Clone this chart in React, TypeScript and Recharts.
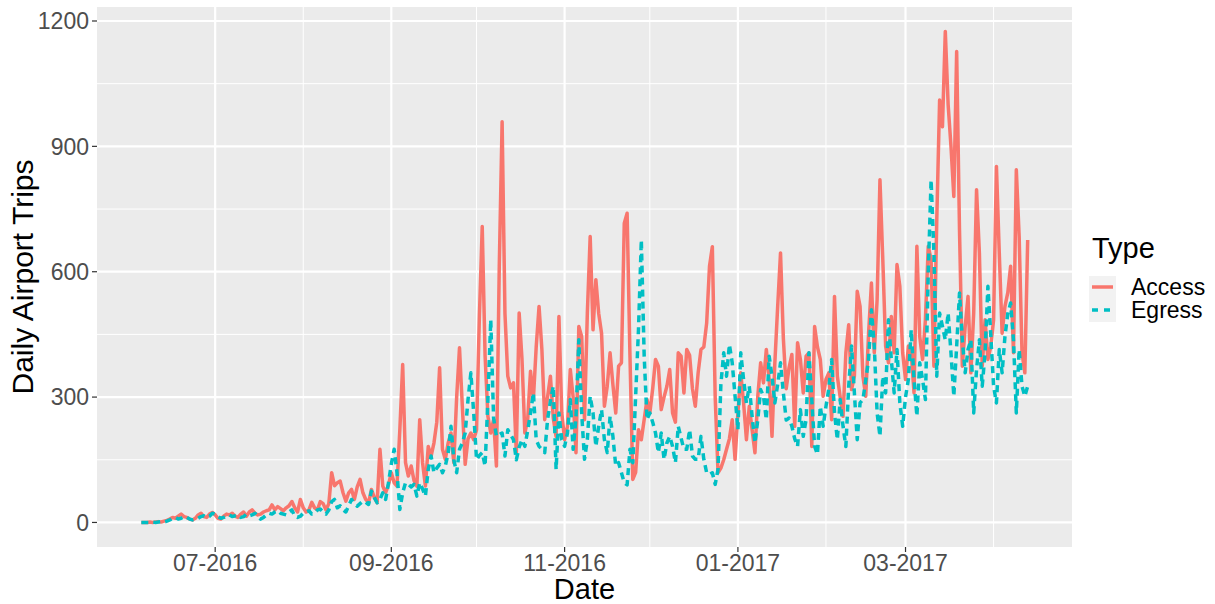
import React from 'react';
import { LineChart, Line, XAxis, YAxis, CartesianGrid, Label } from 'recharts';

// Daily series start on 2016-06-05, one value per day
const startDate = '2016-06-05';

const accessTrips = [
  0, 0, 0, 1, 0, 1, 2, 1, 3, 5,
  8, 12, 10, 15, 20, 14, 12, 8, 6, 10,
  18, 22, 14, 12, 20, 24, 18, 10, 8, 15,
  20, 18, 22, 15, 12, 20, 25, 15, 25, 30,
  22, 18, 20, 25, 28, 30, 42, 30, 38, 33,
  28, 35, 40, 50, 35, 25, 55, 35, 25, 30,
  48, 35, 30, 50, 45, 30, 45, 119, 88, 95,
  99, 71, 51, 71, 79, 55, 85, 103, 71, 55,
  47, 79, 60, 47, 175, 87, 71, 90, 119, 95,
  87, 222, 378, 143, 111, 135, 100, 87, 246, 143,
  87, 182, 159, 190, 240, 370, 175, 151, 190, 214,
  143, 300, 418, 278, 139, 200, 214, 198, 222, 493,
  708, 400, 254, 214, 246, 135, 613, 959, 500, 350,
  322, 334, 167, 501, 390, 214, 246, 362, 294, 420,
  517, 414, 246, 300, 350, 250, 206, 493, 262, 198,
  230, 366, 300, 167, 469, 445, 246, 501, 684, 461,
  581, 500, 453, 278, 326, 406, 330, 262, 374, 382,
  716, 740, 400, 103, 120, 222, 198, 246, 294, 262,
  320, 390, 374, 270, 300, 326, 366, 262, 240, 406,
  398, 310, 414, 400, 320, 278, 358, 414, 420, 477,
  613, 660, 300, 119, 130, 150, 175, 200, 246, 151,
  262, 358, 286, 198, 278, 222, 167, 302, 382, 334,
  414, 342, 206, 382, 517, 645, 440, 320, 370, 402,
  230, 430, 390, 310, 398, 406, 182, 469, 420, 390,
  302, 342, 358, 246, 541, 350, 300, 254, 406, 473,
  318, 350, 553, 517, 350, 302, 453, 573, 406, 533,
  820, 629, 422, 382, 493, 406, 617, 565, 406, 342,
  422, 406, 310, 661, 445, 390, 485, 661, 629, 374,
  724, 1011, 947, 1175, 1000, 900, 780, 1127, 700, 374,
  469, 541, 358, 501, 796, 645, 374, 485, 390, 420,
  485, 852, 645, 453, 517, 550, 613, 406, 844, 684,
  406, 358, 676,
];

const egressTrips = [
  0, 0, 0, 0, 1, 0, 1, 2, 1, 3,
  6, 10, 12, 8, 10, 14, 12, 8, 6, 8,
  10, 14, 16, 12, 15, 22, 20, 14, 10, 12,
  15, 18, 14, 16, 18, 12, 14, 20, 16, 18,
  22, 14, 8, 12, 18, 22, 20, 25, 28, 22,
  20, 18, 25, 30, 15, 12, 15, 22, 25, 28,
  20, 22, 30, 32, 25, 20, 30, 50, 55, 35,
  40, 30, 25, 40, 55, 45, 39, 45, 51, 48,
  43, 75, 60, 47, 55, 71, 55, 95, 140, 175,
  119, 31, 71, 95, 91, 85, 91, 63, 95, 80,
  63, 127, 159, 119, 130, 139, 119, 135, 165, 230,
  150, 119, 175, 190, 214, 294, 358, 262, 150, 160,
  167, 135, 294, 485, 250, 206, 210, 214, 159, 222,
  210, 198, 150, 180, 198, 182, 220, 262, 310, 198,
  182, 175, 167, 246, 290, 326, 127, 262, 198, 182,
  214, 294, 175, 250, 437, 262, 151, 198, 302, 262,
  182, 230, 270, 198, 167, 254, 206, 135, 143, 119,
  95, 90, 175, 143, 302, 461, 676, 400, 246, 262,
  240, 214, 167, 214, 151, 190, 206, 182, 143, 230,
  202, 175, 175, 222, 159, 151, 151, 206, 151, 119,
  115, 119, 91, 127, 330, 406, 350, 426, 382, 302,
  222, 406, 342, 286, 326, 254, 190, 246, 318, 302,
  246, 398, 350, 286, 330, 382, 310, 245, 250, 230,
  200, 182, 270, 206, 246, 406, 294, 182, 163, 278,
  230, 278, 320, 390, 262, 198, 294, 230, 182, 326,
  422, 310, 198, 286, 294, 340, 390, 509, 422, 262,
  206, 350, 310, 485, 390, 310, 414, 286, 230, 300,
  342, 461, 342, 254, 382, 342, 294, 597, 820, 645,
  350, 501, 469, 437, 501, 406, 302, 422, 549, 437,
  358, 414, 437, 262, 366, 437, 326, 406, 565, 450,
  326, 286, 414, 358, 445, 500, 525, 437, 262, 414,
  326, 302, 326,
];

const majorDateTicks = ['2016-07-01', '2016-09-01', '2016-11-01', '2017-01-01', '2017-03-01'];
const minorDateTicks = ['2016-08-01', '2016-10-01', '2016-12-01', '2017-02-01', '2017-04-01'];
const yMajorTicks = [0, 300, 600, 900, 1200];
const yMinorTicks = [150, 450, 750, 1050];

const DAY = 86400000;
const START = Date.parse(startDate + 'T00:00:00Z');
const dayOf = (s: string) => Math.round((Date.parse(s + 'T00:00:00Z') - START) / DAY);

const xMajor = majorDateTicks.map(dayOf);
const xMinor = minorDateTicks.map(dayOf);

const data = accessTrips.map((a, i) => ({ day: i, Access: a, Egress: egressTrips[i] }));

const lastDay = data.length - 1;
const xPad = lastDay * 0.05;
const yMax = Math.max(...accessTrips, ...egressTrips);
const yPad = yMax * 0.05;

const fmtMonth = (d: number) => {
  const dt = new Date(START + Math.round(d) * DAY);
  const m = dt.getUTCMonth() + 1;
  return `${m < 10 ? '0' : ''}${m}-${dt.getUTCFullYear()}`;
};

const FONT = '"Liberation Sans", Arial, Helvetica, sans-serif';
const ACCESS_COLOR = '#F8766D';
const EGRESS_COLOR = '#00BFC4';

export default function App() {
  return (
    <div style={{ position: 'absolute', left: 0, top: 0, width: 1215, height: 604, background: '#fff', fontFamily: FONT }}>
      <LineChart
        width={1215}
        height={604}
        data={data}
        margin={{ top: 7, right: 143, bottom: 0, left: 0 }}
        style={{ fontFamily: FONT }}
      >
        <CartesianGrid
          fill="#EBEBEB"
          stroke="#FFFFFF"
          strokeWidth={1}
          horizontalValues={yMinorTicks}
          verticalValues={xMinor}
        />
        <CartesianGrid
          stroke="#FFFFFF"
          strokeWidth={2.2}
          horizontalValues={yMajorTicks}
          verticalValues={xMajor}
        />
        <XAxis
          dataKey="day"
          type="number"
          domain={[-xPad, lastDay + xPad]}
          allowDataOverflow
          ticks={xMajor}
          tickFormatter={fmtMonth}
          height={57}
          axisLine={false}
          tickLine={{ stroke: '#333333', strokeWidth: 1.2 }}
          tickSize={5}
          tickMargin={3}
          tick={{ fill: '#4D4D4D', fontSize: 23, fontFamily: FONT }}
        >
          <Label value="Date" position="insideBottom" offset={5} fontSize={29} fill="#000000" fontFamily={FONT} />
        </XAxis>
        <YAxis
          type="number"
          domain={[-yPad, 1200 + yPad * 0.57]}
          allowDataOverflow
          ticks={yMajorTicks}
          width={97}
          axisLine={false}
          tickLine={{ stroke: '#333333', strokeWidth: 1.2 }}
          tickSize={5}
          tickMargin={3}
          tick={{ fill: '#4D4D4D', fontSize: 23, fontFamily: FONT }}
        >
          <Label
            value="Daily Airport Trips"
            angle={-90}
            position="insideLeft"
            offset={22}
            fontSize={30}
            fill="#000000"
            fontFamily={FONT}
            style={{ textAnchor: 'middle' }}
          />
        </YAxis>
        <Line
          type="linear"
          dataKey="Access"
          stroke={ACCESS_COLOR}
          strokeWidth={3.5}
          strokeLinejoin="round"
          dot={false}
          activeDot={false}
          isAnimationActive={false}
        />
        <Line
          type="linear"
          dataKey="Egress"
          stroke={EGRESS_COLOR}
          strokeWidth={3.5}
          strokeDasharray="7 5"
          strokeLinejoin="round"
          dot={false}
          activeDot={false}
          isAnimationActive={false}
        />
      </LineChart>
      <svg
        width={1215}
        height={604}
        style={{ position: 'absolute', left: 0, top: 0, pointerEvents: 'none', fontFamily: FONT }}
      >
        <text x={1092} y={258} fontSize={29} fill="#000000">Type</text>
        <rect x={1089} y={276} width={27} height={23} fill="#F2F2F2" />
        <rect x={1089} y={299} width={27} height={23} fill="#F2F2F2" />
        <line x1={1092} x2={1113} y1={287} y2={287} stroke={ACCESS_COLOR} strokeWidth={3.5} />
        <line x1={1092} x2={1113} y1={310} y2={310} stroke={EGRESS_COLOR} strokeWidth={3.5} strokeDasharray="6 6" />
        <text x={1131} y={295} fontSize={23} fill="#000000">Access</text>
        <text x={1131} y={318} fontSize={23} fill="#000000">Egress</text>
      </svg>
    </div>
  );
}
